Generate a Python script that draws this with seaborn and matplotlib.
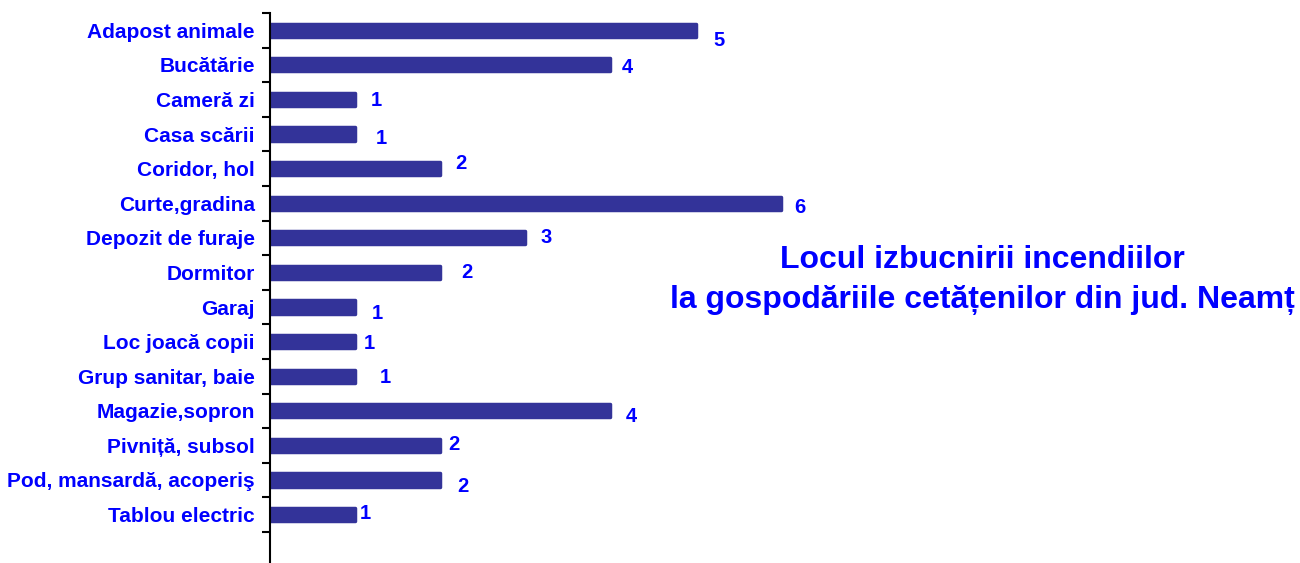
import matplotlib
matplotlib.use("Agg")
import matplotlib.pyplot as plt
import seaborn as sns
import numpy as np

locuri = [
    "Adapost animale", "Bucătărie", "Cameră zi", "Casa scării", "Coridor, hol",
    "Curte,gradina", "Depozit de furaje", "Dormitor", "Garaj", "Loc joacă copii",
    "Grup sanitar, baie", "Magazie,sopron", "Pivniță, subsol",
    "Pod, mansardă, acoperiş", "Tablou electric",
]
incendii = [5, 4, 1, 1, 2, 6, 3, 2, 1, 1, 1, 4, 2, 2, 1]

# small hand offsets (points) of the value labels, as in the original slide
label_dx = [17, 12, 15, 19, 15, 14, 15, 19, 16, 10, 22, 15, 10, 16, 7]
label_dy = [-7, -2, -1, -3, 4, -3, 0, 0, -5, -1, -1, -4, 1, -5, 1]

TITLE = "Locul izbucnirii incendiilor\nla gospodăriile cetățenilor din jud. Neamț"
BAR_COLOR = "#333399"
TEXT_COLOR = "#0000FF"

sns.set_style("white")
plt.rcParams['font.family'] = ['Liberation Sans', 'DejaVu Sans']

fig = plt.figure(figsize=(13, 5.63), dpi=100)
ax = fig.add_axes([270 / 1300, 0.0, 1 - 270 / 1300, 1 - 13 / 563])

sns.barplot(x=incendii, y=locuri, color=BAR_COLOR, width=0.38, ax=ax,
            saturation=1, orient="h", edgecolor=BAR_COLOR, linewidth=2.5)
for p in ax.patches:
    p.set_joinstyle("round")

ax.set_xlim(0, 12.1)
ax.set_ylim(15.4, -0.5)

for i, v in enumerate(incendii):
    ax.annotate(str(v), (v, i), xytext=(label_dx[i], label_dy[i]),
                textcoords="offset points", ha="center", va="center",
                fontsize=14.5, fontweight="bold", color=TEXT_COLOR)

ax.set_xticks([])
ax.set_yticks(range(len(locuri)))
ax.set_yticklabels(locuri, fontsize=15, fontweight="bold", color=TEXT_COLOR)
ax.tick_params(axis="y", which="major", left=True, length=0, pad=11)
ax.set_yticks(np.arange(-0.5, len(locuri), 1.0), minor=True)
ax.tick_params(axis="y", which="minor", left=True, length=6, width=1.5,
               direction="out", color="black")
ax.set_xlabel("")
ax.set_ylabel("")

for s in ["top", "right", "bottom"]:
    ax.spines[s].set_visible(False)
ax.spines["left"].set_color("black")
ax.spines["left"].set_linewidth(1.5)

fig.text(982 / 1300, 1 - 280 / 563, TITLE, ha="center", va="center",
         fontsize=23, fontweight="bold", color=TEXT_COLOR, linespacing=1.45)

fig.savefig("out.png", dpi=100)
